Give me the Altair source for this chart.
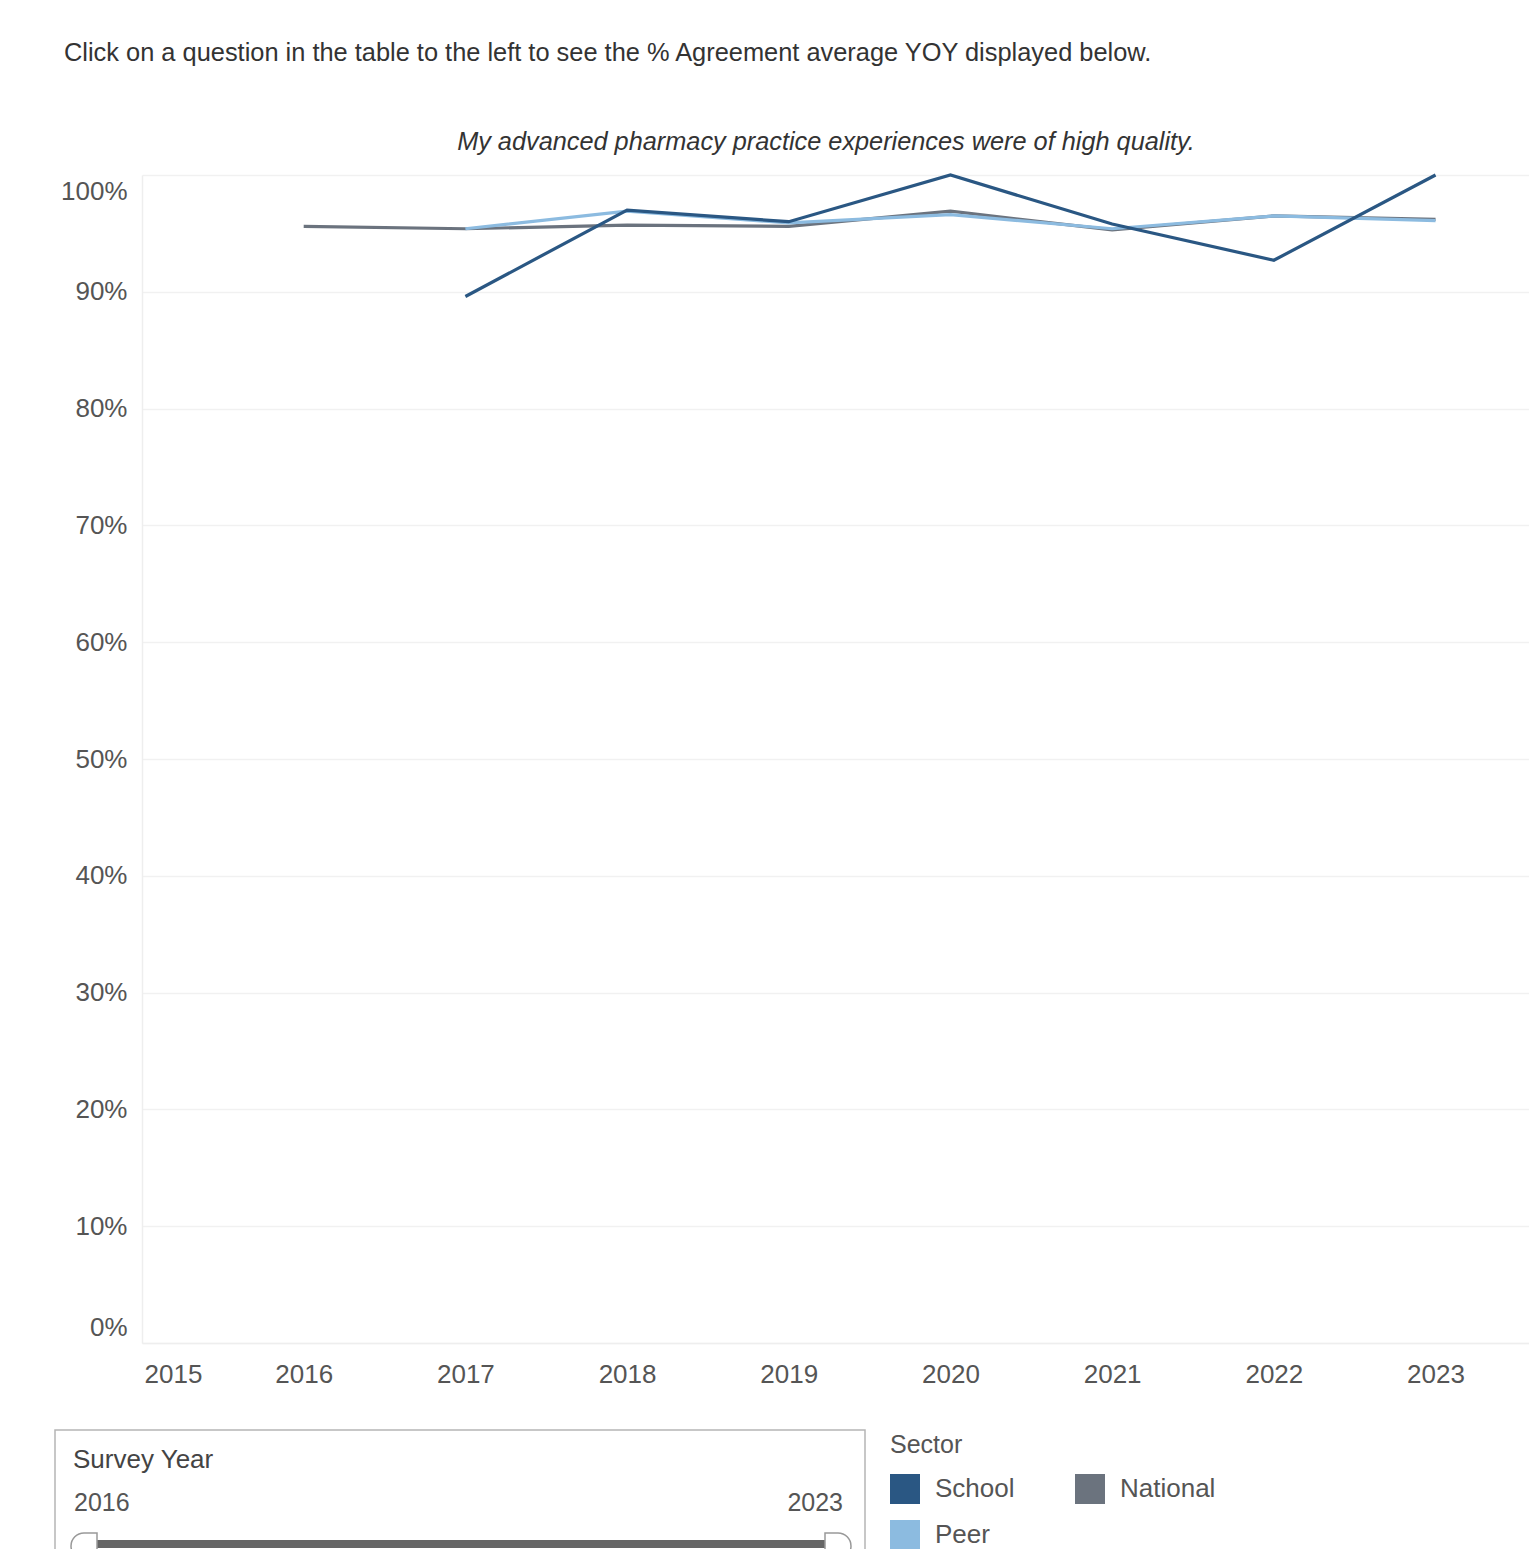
import altair as alt
import pandas as pd

# ---- data ----
years = [2016, 2017, 2018, 2019, 2020, 2021, 2022, 2023]
school = [None, 89.6, 97.0, 96.0, 100.0, 95.8, 92.7, 100.0]
national = [95.6, 95.4, 95.7, 95.6, 96.9, 95.3, 96.5, 96.2]
peer = [None, 95.4, 96.9, 95.9, 96.6, 95.4, 96.5, 96.1]

sectors = ["School", "National", "Peer"]
colors = ["#2a5783", "#6b737e", "#8cbbe0"]
y_ticks = [0, 0.1, 0.2, 0.3, 0.4, 0.5, 0.6, 0.7, 0.8, 0.9, 1.0]
x_ticks = [2015, 2016, 2017, 2018, 2019, 2020, 2021, 2022, 2023]

intro = "Click on a question in the table to the left to see the % Agreement average YOY displayed below."
question = "My advanced pharmacy practice experiences were of high quality."

rows = []
for name, vals in (("National", national), ("Peer", peer), ("School", school)):
    for yr, v in zip(years, vals):
        if v is not None:
            rows.append({"Year": yr, "Sector": name, "Pct": v / 100.0})
df = pd.DataFrame(rows)

FONT = "Liberation Sans"
W, H = 1387, 1168

color_scale = alt.Scale(domain=sectors, range=colors)
legend_color = alt.Color(
    "Sector:N",
    scale=color_scale,
    legend=alt.Legend(
        title="Sector",
        orient="none",
        legendX=748,
        legendY=1258,
        direction="horizontal",
        columns=2,
        columnPadding=60,
        rowPadding=16,
        symbolType="square",
        symbolSize=900,
        symbolStrokeWidth=0,
        symbolOpacity=1,
        labelOffset=15,
        labelFontSize=26,
        labelColor="#555555",
        labelFont=FONT,
        titleFontSize=25,
        titleFontWeight="normal",
        titleColor="#555555",
        titleFont=FONT,
        titlePadding=16,
    ),
)
line_color = alt.Color("Sector:N", scale=color_scale, legend=None)

x_enc = alt.X(
    "Year:Q",
    scale=alt.Scale(domain=[2015, 2023.578], nice=False, zero=False),
    axis=alt.Axis(
        title=None,
        values=x_ticks,
        format="d",
        grid=False,
        ticks=False,
        tickSize=0,
        labelFlush=True,
        labelFlushOffset=-2,
        labelPadding=18,
        labelFontSize=26,
        labelColor="#555555",
        domainColor="#eeeeee",
        domainWidth=1.5,
    ),
)
y_enc = alt.Y(
    "Pct:Q",
    scale=alt.Scale(domain=[0, 1], nice=False),
    axis=alt.Axis(
        title=None,
        values=y_ticks,
        format=".0%",
        grid=True,
        gridColor="#f1f1f1",
        gridWidth=1.5,
        ticks=False,
        tickSize=0,
        labelFlush=True,
        labelFlushOffset=-3,
        labelPadding=15,
        labelFontSize=26,
        labelColor="#555555",
        domainColor="#eeeeee",
        domainWidth=1.5,
    ),
)

# legend carrier: filled squares, no rows drawn
legend_layer = (
    alt.Chart(df)
    .transform_filter("false")
    .mark_square(filled=True, opacity=1)
    .encode(x=x_enc, y=y_enc, color=legend_color)
)

lines = [
    alt.Chart(df)
    .transform_filter(alt.datum.Sector == s)
    .mark_line(strokeWidth=3.2)
    .encode(x=x_enc, y=y_enc, color=line_color)
    for s in ["National", "Peer", "School"]
]

def one(**kw):
    return alt.Chart(pd.DataFrame([kw]))

intro_t = one(t=intro).mark_text(
    align="left", baseline="middle", fontSize=25.4, color="#333333", font=FONT
).encode(x=alt.value(-78), y=alt.value(-122), text="t:N")

title_t = one(t=question).mark_text(
    align="center", baseline="middle", fontSize=25.3, fontStyle="italic", color="#333333", font=FONT
).encode(x=alt.value(684), y=alt.value(-33), text="t:N")

# Survey Year filter card
box = one(a=1).mark_rect(fill="white", stroke="#b5b5b5", strokeWidth=1.5).encode(
    x=alt.value(-87), x2=alt.value(723), y=alt.value(1255), y2=alt.value(1440)
)
card_title = one(t="Survey Year").mark_text(
    align="left", baseline="middle", fontSize=26, color="#444444", font=FONT
).encode(x=alt.value(-69), y=alt.value(1285), text="t:N")
lo_t = one(t=str(years[0])).mark_text(
    align="left", baseline="middle", fontSize=25, color="#555555", font=FONT
).encode(x=alt.value(-68), y=alt.value(1328), text="t:N")
hi_t = one(t=str(years[-1])).mark_text(
    align="right", baseline="middle", fontSize=25, color="#555555", font=FONT
).encode(x=alt.value(701), y=alt.value(1328), text="t:N")
track = one(a=1).mark_rule(strokeWidth=8, color="#666666").encode(
    x=alt.value(-50), x2=alt.value(685), y=alt.value(1369)
)
h_left = one(a=1).mark_point(
    shape="M1,-1 L0,-1 A1,1 0 0,0 0,1 L1,1 Z", size=676, filled=True,
    fill="white", stroke="#999999", strokeWidth=1.5, opacity=1
).encode(x=alt.value(-58), y=alt.value(1371))
h_right = one(a=1).mark_point(
    shape="M-1,-1 L0,-1 A1,1 0 0,1 0,1 L-1,1 Z", size=676, filled=True,
    fill="white", stroke="#999999", strokeWidth=1.5, opacity=1
).encode(x=alt.value(696), y=alt.value(1371))

chart = (
    alt.layer(legend_layer, *lines, intro_t, title_t, box, card_title, lo_t, hi_t,
              track, h_left, h_right)
    .properties(
        width=W,
        height=H,
        autosize=alt.AutoSizeParams(type="none"),
        padding={"left": 134, "top": 167, "right": 0, "bottom": 206},
        background="white",
    )
    .configure(font=FONT)
    .configure_view(strokeWidth=0)
)

chart.save("out.html", embed_options={"renderer": "svg", "actions": False})
